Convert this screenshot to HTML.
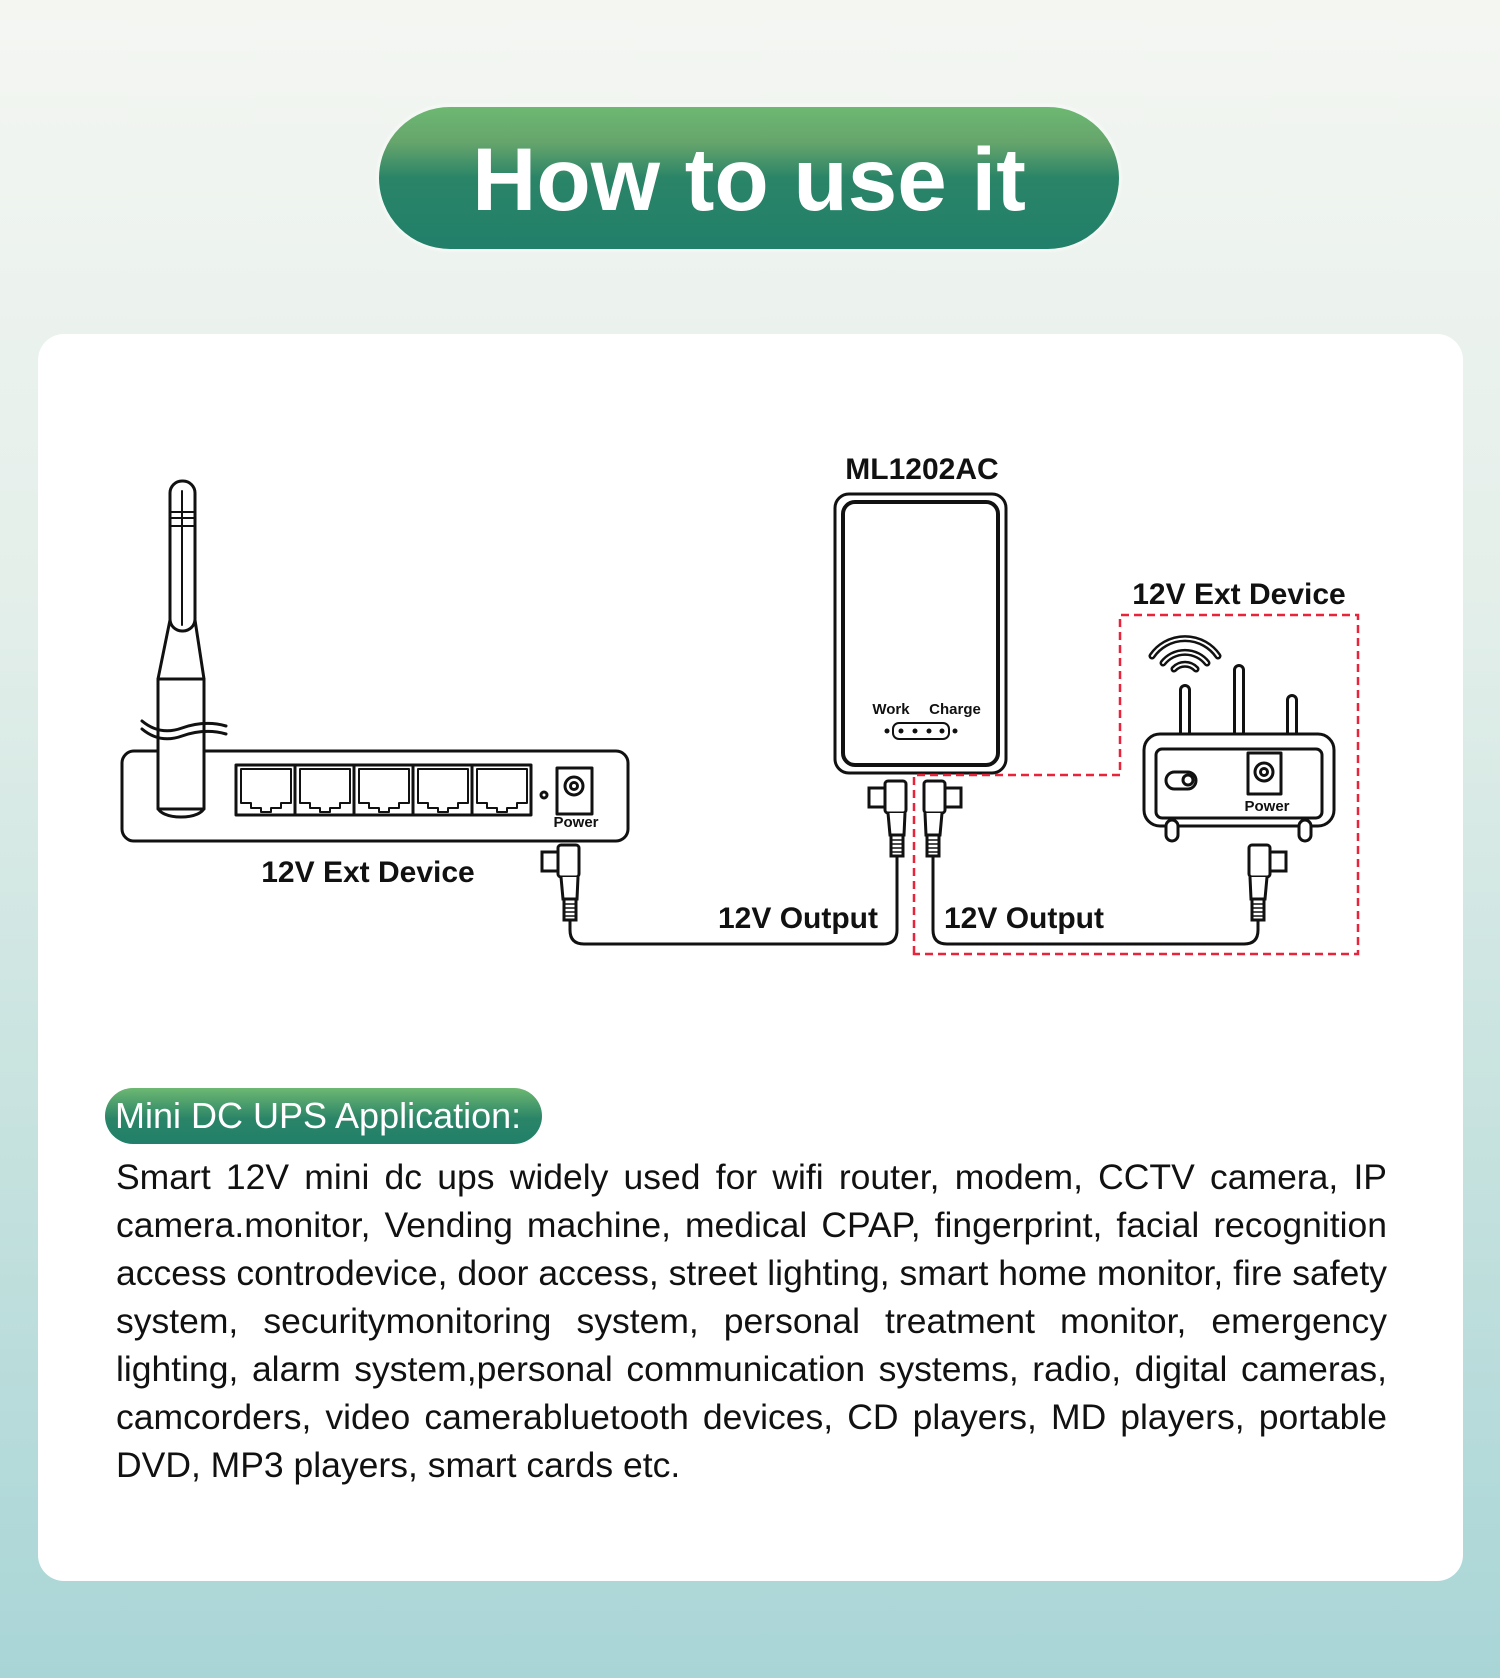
<!DOCTYPE html>
<html><head><meta charset="utf-8"><style>
*{margin:0;padding:0;box-sizing:border-box}
html,body{width:1500px;height:1678px;overflow:hidden}
body{background:linear-gradient(180deg,#f4f6f2 0%,#e4efea 35%,#c4e1de 70%,#a9d5d7 100%);font-family:"Liberation Sans",Arial,sans-serif;position:relative}
.pill{position:absolute;left:377px;top:105px;width:744px;height:146px;border-radius:73px;background:linear-gradient(180deg,#6db872 0%,#66a56c 25%,#2a8467 50%,#21806a 100%);border:2px solid #f4f8f4;box-shadow:0 0 3px rgba(255,255,255,.8)}
.pill span{position:absolute;left:0;right:0;top:0;text-align:center;color:#fff;font-weight:bold;font-size:89px;line-height:144px}
.card{position:absolute;left:38px;top:334px;width:1425px;height:1247px;background:#fff;border-radius:26px}
.lab{position:absolute;left:105px;top:1088px;width:437px;height:56px;border-radius:28px;background:linear-gradient(180deg,#6db872 0%,#2a8467 55%,#21806a 100%);color:#fff;font-size:36px;line-height:56px;padding-left:10px;white-space:nowrap}
.para{position:absolute;left:116px;top:1153px;width:1271px;font-size:35.5px;line-height:48px;color:#111}
.para div{text-align:justify;text-align-last:justify;white-space:nowrap}
.para div.l{text-align-last:left}
svg{position:absolute;left:0;top:0}
</style></head><body>
<div class="pill"><span>How to use it</span></div>
<div class="card"></div>
<svg width="1500" height="1678" viewBox="0 0 1500 1678">
<defs>
<g id="plug" fill="#fff" stroke="#111" stroke-width="3">
<rect x="-28" y="7" width="17" height="19"/>
<rect x="-12" y="0" width="21" height="32" rx="3"/>
<path d="M-9 32 L-7 54 L7 54 L8 32"/>
<rect x="-6" y="54" width="12" height="21"/>
<path d="M-6 59H6M-6 63H6M-6 67H6M-6 71H6" stroke-width="1.5"/>
</g>
</defs>
<g fill="none" stroke="#111" stroke-width="3" stroke-linecap="round" stroke-linejoin="round">
<!-- left router -->
<rect x="122" y="751" width="506" height="90" rx="12"/>
<rect x="236" y="765" width="295" height="50"/>
<path d="M295 765V815M354 765V815M413 765V815M472 765V815"/>
<g stroke-width="2">
<path d="M241 769H291V803H281V808H271V812H261V808H251V803H241Z"/>
<path d="M300 769H350V803H340V808H330V812H320V808H310V803H300Z"/>
<path d="M359 769H409V803H399V808H389V812H379V808H369V803H359Z"/>
<path d="M418 769H468V803H458V808H448V812H438V808H428V803H418Z"/>
<path d="M477 769H527V803H517V808H507V812H497V808H487V803H477Z"/>
</g>
<circle cx="544" cy="795" r="3"/>
<rect x="557" y="768" width="35" height="46"/>
<circle cx="574" cy="786" r="9"/><circle cx="574" cy="786" r="3.5"/>
<!-- antenna -->
<path d="M158 807 A23 10 0 0 0 204 807" fill="#fff"/>
<rect x="158" y="679" width="46" height="130" fill="#fff"/>
<path d="M170 620 L158 679 H204 L195 620Z" fill="#fff"/>
<rect x="170" y="481" width="25" height="150" rx="12" fill="#fff"/>
<path d="M182 491V625M170 512H195M170 518H195M170 526H195" stroke-width="2"/>
<path d="M142 721 Q160 736 182 728 Q205 720 226 726" fill="none"/>
<path d="M142 729 Q160 744 182 736 Q205 728 226 734" fill="none"/>
<!-- UPS -->
<rect x="835" y="494" width="171" height="279" rx="14" stroke-width="3"/>
<rect x="843" y="502" width="155" height="263" rx="12" stroke-width="4"/>
<rect x="893" y="723" width="56" height="16" rx="6" stroke-width="2"/>
<g fill="#111" stroke="none"><circle cx="887" cy="731" r="2.5"/><circle cx="901" cy="731" r="2.5"/><circle cx="915" cy="731" r="2.5"/><circle cx="929" cy="731" r="2.5"/><circle cx="942" cy="731" r="2.5"/><circle cx="955" cy="731" r="2.5"/></g>
<!-- right device -->
<path d="M1185 740V690M1239 740V670M1292 740V700" stroke-width="12"/>
<path d="M1185 740V690M1239 740V670M1292 740V700" stroke="#fff" stroke-width="6"/>
<rect x="1144" y="734" width="190" height="92" rx="16" fill="#fff"/>
<rect x="1156" y="749" width="166" height="69" rx="6"/>
<rect x="1166" y="772" width="30" height="17" rx="8.5"/><circle cx="1188" cy="780" r="5"/>
<rect x="1248" y="753" width="33" height="41"/>
<circle cx="1264" cy="772" r="9"/><circle cx="1264" cy="772" r="3.5"/>
<rect x="1166" y="820" width="12" height="21" rx="6" fill="#fff"/>
<rect x="1299" y="820" width="12" height="21" rx="6" fill="#fff"/>
<path d="M1152 656 A40 40 0 0 1 1218 656" stroke-width="7"/>
<path d="M1152 656 A40 40 0 0 1 1218 656" stroke="#fff" stroke-width="2"/>
<path d="M1163 663 A28 28 0 0 1 1207 663" stroke-width="7"/>
<path d="M1163 663 A28 28 0 0 1 1207 663" stroke="#fff" stroke-width="2"/>
<path d="M1174 669 A15 15 0 0 1 1196 669" stroke-width="7"/>
<path d="M1174 669 A15 15 0 0 1 1196 669" stroke="#fff" stroke-width="2"/>
<!-- cables -->
<path d="M570 920V930Q570 944 584 944H883Q897 944 897 930V856"/>
<path d="M933 856V930Q933 944 947 944H1244Q1258 944 1258 930V920"/>
</g>
<use href="#plug" transform="translate(570,845)"/>
<use href="#plug" transform="translate(897,781)"/>
<use href="#plug" transform="translate(933,781) scale(-1,1)"/>
<use href="#plug" transform="translate(1258,845) scale(-1,1)"/>
<path d="M914 954V775H1120V615H1358V954Z" fill="none" stroke="#e8233a" stroke-width="2.5" stroke-dasharray="8 5"/>
<g font-family="Liberation Sans,Arial,sans-serif" font-weight="bold" fill="#111">
<text x="922" y="479" font-size="30" text-anchor="middle">ML1202AC</text>
<text x="1239" y="604" font-size="30" text-anchor="middle">12V Ext Device</text>
<text x="368" y="882" font-size="30" text-anchor="middle">12V Ext Device</text>
<text x="798" y="928" font-size="30" text-anchor="middle">12V Output</text>
<text x="1024" y="928" font-size="30" text-anchor="middle">12V Output</text>
<text x="891" y="714" font-size="15" text-anchor="middle">Work</text>
<text x="955" y="714" font-size="15" text-anchor="middle">Charge</text>
<text x="576" y="827" font-size="15" text-anchor="middle">Power</text>
<text x="1267" y="811" font-size="15" text-anchor="middle">Power</text>
</g>
</svg>
<div class="lab">Mini DC UPS Application:</div>
<div class="para">
<div>Smart 12V mini dc ups widely used for wifi router, modem, CCTV camera, IP</div>
<div>camera.monitor, Vending machine, medical CPAP, fingerprint, facial recognition</div>
<div>access controdevice, door access, street lighting, smart home monitor, fire safety</div>
<div>system, securitymonitoring system, personal treatment monitor, emergency</div>
<div>lighting, alarm system,personal communication systems, radio, digital cameras,</div>
<div>camcorders, video camerabluetooth devices, CD players, MD players, portable</div>
<div class="l">DVD, MP3 players, smart cards etc.</div>
</div>
</body></html>
